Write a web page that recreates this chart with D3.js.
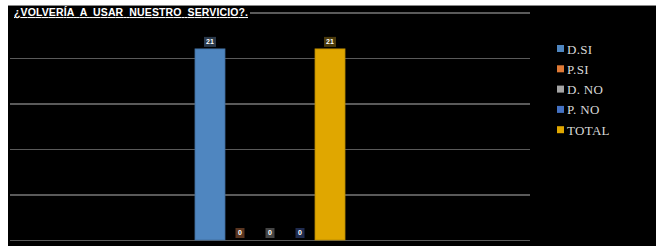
<!DOCTYPE html>
<meta charset="utf-8">
<head>
<style>
body { margin: 0; background: #fff; }
.grid line { stroke: #5a5a5a; stroke-width: 1.2; shape-rendering: crispEdges; }
.grid path { display: none; }
.legend text { font-family: 'Liberation Serif', 'DejaVu Serif', serif; font-size: 13px; letter-spacing: 0.3px; fill: #d9d9d9; }
.lbl text { font-family: 'Liberation Sans', Arial, sans-serif; font-size: 7px; font-weight: bold; fill: #fff; }
</style>
</head>
<body>
<div id="chart"></div>
<script src="https://d3js.org/d3.v7.min.js"></script>
<script>

var title = "¿VOLVERÍA  A  USAR  NUESTRO  SERVICIO?.";
var categories = ["Respuesta"];
var series = ["D.SI", "P.SI", "D. NO", "P. NO", "TOTAL"];
var values = [21, 0, 0, 0, 21];
var colors = ["#4f86c0", "#e07a36", "#a5a5a5", "#4472c4", "#e0a700"];
var labelFill = ["#2b3a4c", "#5a3520", "#454545", "#1f2b4f", "#4c3b0c"];
var yTicks = [0, 5, 10, 15, 20, 25];

var W = 656, H = 246;
var margin = {top: 12.5, left: 10, right: 126, bottom: 6};
var width = W - margin.left - margin.right,
    height = H - margin.top - margin.bottom;

var svg = d3.select("#chart").append("svg")
    .attr("width", W)
    .attr("height", H);

svg.append("rect")
    .attr("x", 8).attr("y", 5)
    .attr("width", W - 8).attr("height", H - 5)
    .attr("fill", "#000");
svg.append("line")
    .attr("x1", 8).attr("x2", W).attr("y1", 5.5).attr("y2", 5.5)
    .attr("stroke", "#888");

var g = svg.append("g")
    .attr("transform", "translate(" + margin.left + "," + margin.top + ")");

var y = d3.scaleLinear().domain([0, 25]).range([height, 0]);

var x0 = d3.scaleBand().domain(categories).range([0, width]).paddingInner(0).paddingOuter(1.233);
var x1 = d3.scaleBand().domain(series).range([0, x0.bandwidth()]).padding(0);

g.append("g")
    .attr("class", "grid")
    .call(d3.axisLeft(y).tickValues(yTicks).tickSize(-width).tickFormat(""));

// title sits over the top gridline, so mask the line behind it
svg.append("rect")
    .attr("x", 10).attr("y", 6)
    .attr("width", 240).attr("height", 12)
    .attr("fill", "#000");

svg.append("text")
    .attr("x", 14).attr("y", 16)
    .attr("font-family", "'Liberation Sans', Arial, sans-serif")
    .attr("font-weight", "bold")
    .attr("font-size", "10.5px")
    .attr("fill", "#fff")
    .attr("text-decoration", "underline")
    .style("white-space", "pre")
    .attr("textLength", 234)
    .text(title);

var grp = g.selectAll(".grp")
    .data(categories)
  .enter().append("g")
    .attr("transform", function(d) { return "translate(" + x0(d) + ",0)"; });

var rows = series.map(function(s, i) { return {s: s, v: values[i], i: i}; });

grp.selectAll("rect.bar")
    .data(rows)
  .enter().append("rect")
    .attr("class", "bar")
    .attr("x", function(d) { return x1(d.s); })
    .attr("width", x1.bandwidth())
    .attr("y", function(d) { return y(d.v); })
    .attr("height", function(d) { return height - y(d.v); })
    .attr("fill", function(d) { return colors[d.i]; })
    .attr("stroke", function(d) { return d3.color(colors[d.i]).darker(0.6); })
    .attr("stroke-width", 0.8);

var lbl = grp.selectAll("g.lbl")
    .data(rows)
  .enter().append("g")
    .attr("class", "lbl")
    .attr("transform", function(d) {
      return "translate(" + (x1(d.s) + x1.bandwidth() / 2) + "," + (y(d.v) - 7) + ")";
    });

lbl.append("rect")
    .attr("x", function(d) { return d.v > 9 ? -6 : -4.5; })
    .attr("y", -5)
    .attr("width", function(d) { return d.v > 9 ? 12 : 9; })
    .attr("height", 10)
    .attr("fill", function(d) { return labelFill[d.i]; });

lbl.append("text")
    .attr("text-anchor", "middle")
    .attr("dy", "0.35em")
    .text(function(d) { return d.v; });

var legend = svg.append("g")
    .attr("class", "legend")
    .attr("transform", "translate(557,49)");

var li = legend.selectAll("g")
    .data(series)
  .enter().append("g")
    .attr("transform", function(d, i) { return "translate(0," + (i * 20.3) + ")"; });

li.append("rect")
    .attr("x", 0).attr("y", -4)
    .attr("width", 7).attr("height", 7)
    .attr("fill", function(d, i) { return colors[i]; });

li.append("text")
    .attr("x", 10)
    .attr("y", 4.5)
    .text(function(d) { return d; });

</script>
</body>
